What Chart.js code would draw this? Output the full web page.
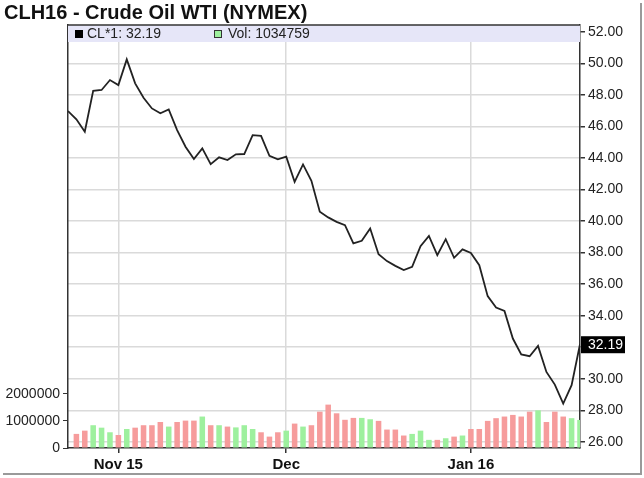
<!DOCTYPE html>
<html>
<head>
<meta charset="utf-8">
<script src="https://cdn.jsdelivr.net/npm/chart.js@4.4.1/dist/chart.umd.min.js"></script>
<style>
  html, body { margin: 0; padding: 0; background: #fff; }
  canvas { display: block; }
</style>
</head>
<body>
<canvas id="c" width="644" height="478"></canvas>
<script>
// ---- data ----
const dates = [
  "2015-10-23","2015-10-26","2015-10-27","2015-10-28","2015-10-29","2015-10-30",
  "2015-11-02","2015-11-03","2015-11-04","2015-11-05","2015-11-06",
  "2015-11-09","2015-11-10","2015-11-11","2015-11-12","2015-11-13",
  "2015-11-16","2015-11-17","2015-11-18","2015-11-19","2015-11-20",
  "2015-11-23","2015-11-24","2015-11-25","2015-11-27","2015-11-30",
  "2015-12-01","2015-12-02","2015-12-03","2015-12-04",
  "2015-12-07","2015-12-08","2015-12-09","2015-12-10","2015-12-11",
  "2015-12-14","2015-12-15","2015-12-16","2015-12-17","2015-12-18",
  "2015-12-21","2015-12-22","2015-12-23","2015-12-24",
  "2015-12-28","2015-12-29","2015-12-30","2015-12-31",
  "2016-01-04","2016-01-05","2016-01-06","2016-01-07","2016-01-08",
  "2016-01-11","2016-01-12","2016-01-13","2016-01-14","2016-01-15",
  "2016-01-19","2016-01-20","2016-01-21","2016-01-22"
];
const closePrice = [
  46.97, 46.45, 45.66, 48.26, 48.31, 48.94,
  48.62, 50.25, 48.73, 47.82, 47.14,
  46.83, 47.08, 45.77, 44.71, 43.93,
  44.61, 43.61, 44.04, 43.87, 44.23,
  44.25, 45.45, 45.40, 44.14, 43.91,
  44.08, 42.49, 43.59, 42.55,
  40.59, 40.23, 39.95, 39.74, 38.58,
  38.75, 39.53, 37.90, 37.46, 37.16,
  36.89, 37.10, 38.41, 39.06,
  37.84, 38.85, 37.67, 38.20,
  37.98, 37.20, 35.24, 34.52, 34.30,
  32.55, 31.54, 31.43, 32.08, 30.43,
  29.63, 28.43, 29.59, 32.19
];
const volume = [
  null, 520000, 640000, 840000, 750000, 580000,
  480000, 700000, 750000, 840000, 840000,
  960000, 790000, 960000, 1010000, 1010000,
  1160000, 840000, 840000, 790000, 760000,
  840000, 700000, 580000, 420000, 580000,
  640000, 900000, 790000, 840000,
  1340000, 1600000, 1280000, 1040000, 1110000,
  1110000, 1060000, 1000000, 680000, 680000,
  460000, 520000, 640000, 300000,
  300000, 360000, 420000, 460000,
  700000, 700000, 1000000, 1100000, 1160000,
  1220000, 1160000, 1340000, 1390000, 960000,
  1340000, 1160000, 1100000, 1034759
];
const monthLabels = { "2015-11": "Nov 15", "2015-12": "Dec", "2016-01": "Jan 16" };
const priceTicks = [26, 28, 30, 32, 34, 36, 38, 40, 42, 44, 46, 48, 50, 52];
const volumeTicks = [0, 1000000, 2000000];
const titleText = "CLH16 - Crude Oil WTI (NYMEX)";
const seriesName = "CL*1";
const volName = "Vol";

// ---- derived ----
const monthStarts = [];
dates.forEach((d, i) => {
  const m = d.slice(0, 7);
  if (monthLabels[m] && (i === 0 || dates[i - 1].slice(0, 7) !== m)) monthStarts.push(i);
});
const UP = '#9ef09e', DOWN = '#f69c9c';
const barColors = volume.map((v, i) => (i > 0 && closePrice[i] >= closePrice[i - 1]) ? UP : DOWN);
const lastPrice = closePrice[closePrice.length - 1];
const lastVol = volume[volume.length - 1];

const FONT = "'Liberation Sans', Arial, Helvetica, sans-serif";

const overlay = {
  id: 'overlay',
  beforeDraw(chart) {
    const c = chart.ctx;
    c.save();
    c.fillStyle = '#fff';
    c.fillRect(0, 0, chart.width, chart.height);
    c.restore();
  },
  beforeDatasetsDraw(chart) {
    const c = chart.ctx, a = chart.chartArea;
    c.save();
    c.fillStyle = '#e6e6f8';
    c.fillRect(a.left, a.top, a.right - a.left, 17);
    c.font = '14px ' + FONT;
    c.textBaseline = 'middle';
    const ly = a.top + 9;
    c.fillStyle = '#000';
    c.fillRect(a.left + 7, ly - 4, 8, 8);
    c.fillStyle = '#222';
    c.fillText(seriesName + ': ' + lastPrice.toFixed(2), a.left + 19, ly);
    c.fillStyle = UP;
    c.fillRect(a.left + 146, ly - 4, 8, 8);
    c.strokeStyle = '#333';
    c.lineWidth = 1;
    c.strokeRect(a.left + 146.5, ly - 3.5, 7, 7);
    c.fillStyle = '#222';
    c.fillText(volName + ': ' + lastVol, a.left + 160, ly);
    c.restore();
  },
  afterDraw(chart) {
    const c = chart.ctx, a = chart.chartArea;
    c.save();
    c.strokeStyle = '#333';
    c.lineWidth = 1.5;
    c.beginPath();
    c.moveTo(a.left, a.top);
    c.lineTo(a.right, a.top);
    c.stroke();
    c.fillStyle = '#111';
    c.font = 'bold 20px ' + FONT;
    c.textBaseline = 'middle';
    c.fillText(titleText, 4, 13);
    const y = chart.scales.yP.getPixelForValue(lastPrice);
    c.fillStyle = '#000';
    c.fillRect(a.right + 1, y - 8, 44, 17);
    c.fillStyle = '#fff';
    c.font = '14px ' + FONT;
    c.fillText(lastPrice.toFixed(2), a.right + 8, y + 0.5);
    c.fillStyle = '#9a9a9a';
    c.fillRect(640, 3, 2, 472);
    c.fillRect(3, 473, 639, 2);
    c.restore();
  }
};

new Chart(document.getElementById('c'), {
  data: {
    datasets: [
      {
        type: 'line',
        data: closePrice.map((v, i) => ({ x: i, y: v })),
        yAxisID: 'yP',
        borderColor: '#222',
        borderWidth: 1.8,
        pointRadius: 0,
        tension: 0,
        order: 0
      },
      {
        type: 'bar',
        data: volume.map((v, i) => ({ x: i, y: v })),
        yAxisID: 'yV',
        backgroundColor: barColors,
        borderWidth: 0,
        barPercentage: 0.66,
        categoryPercentage: 1,
        order: 1
      }
    ]
  },
  options: {
    responsive: false,
    animation: false,
    layout: { padding: { top: 25, left: 0, right: 0, bottom: 0 } },
    plugins: { legend: { display: false }, tooltip: { enabled: false }, title: { display: false } },
    scales: {
      x: {
        type: 'linear',
        offset: false,
        min: 0,
        max: dates.length - 1,
        afterBuildTicks: s => { s.ticks = monthStarts.map(i => ({ value: i })); },
        ticks: {
          callback: v => monthLabels[dates[v].slice(0, 7)],
          autoSkip: false,
          maxRotation: 0,
          padding: 3,
          color: '#111',
          font: { family: FONT, size: 15, weight: 'bold' }
        },
        grid: { offset: false, color: '#dadada', lineWidth: 1.5, tickColor: '#333', tickLength: 5 },
        border: { color: '#333', width: 1.5 },
        afterFit: s => { s.height = 30; }
      },
      yP: {
        type: 'linear',
        position: 'right',
        min: 25.61,
        max: 52.43,
        afterBuildTicks: s => { s.ticks = priceTicks.map(v => ({ value: v })); },
        ticks: {
          callback: v => v.toFixed(2),
          padding: 3,
          color: '#222',
          font: { family: FONT, size: 14 }
        },
        grid: { color: '#dadada', lineWidth: 1.5, tickColor: '#333', tickLength: 5 },
        border: { color: '#333', width: 1.5 },
        afterFit: s => { s.width = 64; }
      },
      yV: {
        type: 'linear',
        position: 'left',
        min: 0,
        max: 15600000,
        afterBuildTicks: s => { s.ticks = volumeTicks.map(v => ({ value: v })); },
        ticks: {
          callback: v => String(v),
          padding: 3,
          color: '#222',
          font: { family: FONT, size: 14 }
        },
        grid: { drawOnChartArea: false, tickColor: '#333', tickLength: 5 },
        border: { color: '#333', width: 1.5 },
        afterFit: s => { s.width = 68; }
      }
    }
  },
  plugins: [overlay]
});
</script>
</body>
</html>
